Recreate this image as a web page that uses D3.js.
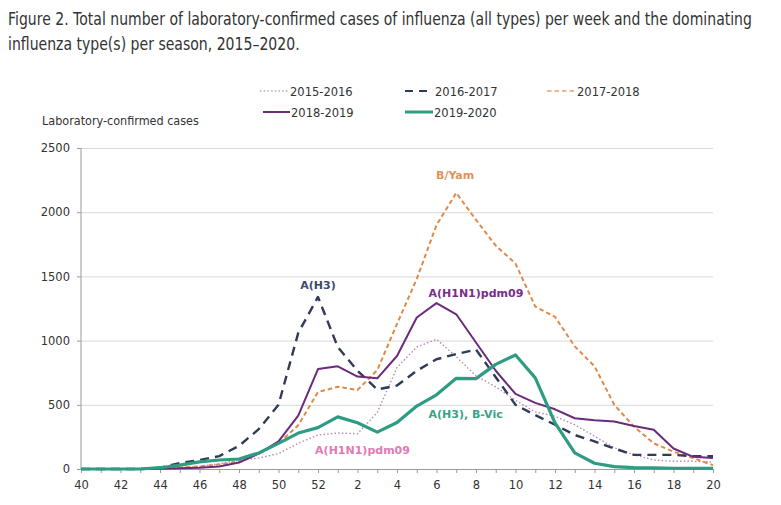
<!DOCTYPE html>
<html>
<head>
<meta charset="utf-8">
<script src="https://cdn.jsdelivr.net/npm/d3@7"></script>
<style>
    body { margin: 0; background: #fff; }
    text { font-family: "DejaVu Sans", Verdana, sans-serif; fill: #333; }
    .axis path, .axis line { stroke: #9a9a9a; }
    .axis text { font-size: 11.5px; fill: #333; }
    .grid line { stroke: #d9d9d9; }
    .grid path { display: none; }
    .tag { font-weight: bold; font-size: 11px; }
</style>
</head>
<body>
<svg width="781" height="505"></svg>
<script>
// weeks 40-52 then 1-20
var weeks = ["40", "41", "42", "43", "44", "45", "46", "47", "48", "49", "50", "51", "52",
    "1", "2", "3", "4", "5", "6", "7", "8", "9", "10", "11", "12", "13", "14", "15", "16", "17", "18", "19", "20"];
var weekLabels = ["40", "42", "44", "46", "48", "50", "52", "2", "4", "6", "8", "10", "12", "14", "16", "18", "20"];
var yTicks = [0, 500, 1000, 1500, 2000, 2500];

var s2015 = [0, 0, 0, 0, 5, 10, 20, 40, 70, 85, 120, 200, 265,
    280, 275, 440, 790, 950, 1010, 875, 725, 640, 535, 445, 410, 345, 255, 165, 110, 70, 60, 60, 55];
var s2016 = [0, 0, 0, 0, 10, 45, 70, 100, 180, 310, 500, 1060, 1340,
    950, 765, 620, 650, 765, 855, 895, 930, 715, 500, 420, 345, 265, 215, 160, 110, 110, 110, 100, 100];
var s2017 = [0, 0, 0, 0, 5, 10, 20, 35, 60, 120, 200, 340, 600,
    640, 615, 770, 1130, 1480, 1900, 2150, 1940, 1740, 1600, 1265, 1185, 955, 800, 500, 330, 200, 135, 85, 30];
var s2018 = [0, 0, 0, 0, 2, 5, 10, 20, 50, 120, 215, 415, 778,
    800, 720, 706, 880, 1180, 1292, 1205, 985, 765, 585, 515, 465, 395, 380, 370, 335, 305, 160, 95, 85];
var s2019 = [0, 0, 0, 0, 10, 30, 55, 70, 78, 125, 200, 280, 322,
    406, 360, 287, 362, 490, 578, 706, 704, 815, 888, 710, 360, 125, 45, 18, 10, 8, 6, 5, 5];

var seasons = ["2015-2016", "2016-2017", "2017-2018", "2018-2019", "2019-2020"];
var seasonValues = [s2015, s2016, s2017, s2018, s2019];
var seasonColors = ["#b48ab5", "#2f3b57", "#e08a48", "#6b2a7c", "#2e9c82"];
var seasonDash = ["1.5,2.2", "9,6", "4.5,3", null, null];
var seasonWidth = [1.4, 2.4, 2, 2, 3.2];

var tagTexts = ["A(H3)", "B/Yam", "A(H1N1)pdm09", "A(H3), B-Vic", "A(H1N1)pdm09"];
var tagColors = ["#3b4a70", "#e3915a", "#7a2c8c", "#35a387", "#e27ab6"];

var svg, margin, width, height, xScale, yScale, g;

// squeeze a text horizontally so it spans the given width
function squeezeText(x, y, size, w, str) {
    var holder = svg.append("g");
    var t = holder.append("text")
        .attr("font-size", size)
        .text(str);
    var natural = t.node().getComputedTextLength();
    holder.attr("transform", "translate(" + [x, y] + ") scale(" + (w / natural) + ",1)");
    return t;
}

function drawTitle() {
    squeezeText(8, 25, "17px", 744,
        "Figure 2. Total number of laboratory-confirmed cases of influenza (all types) per week and the dominating");
    squeezeText(8, 50, "17px", 292, "influenza type(s) per season, 2015\u20132020.");
    squeezeText(42, 125, "11.5px", 157, "Laboratory-confirmed cases");
}

function drawLegend() {
    // [x1, x2, textX, y]
    var spots = [[260, 288, 290, 91], [405, 430, 435, 91], [547, 577, 577, 91],
        [263, 290, 291, 112], [405, 433, 434, 112]];
    var legend = svg.append("g").attr("id", "legend");
    seasons.forEach(function (s, i) {
        var p = spots[i];
        legend.append("line")
            .attr("x1", p[0]).attr("x2", p[1])
            .attr("y1", p[3]).attr("y2", p[3])
            .attr("stroke", seasonColors[i])
            .attr("stroke-width", i == 4 ? 3 : 2)
            .attr("stroke-dasharray", i == 1 ? "8,6" : seasonDash[i])
            .attr("opacity", (i == 0 || i == 2) ? 0.6 : 1);
        legend.append("text")
            .attr("x", p[2]).attr("y", p[3] + 4.5)
            .attr("font-size", "11.5px")
            .text(s);
    });
}

function initLayout() {
    svg = d3.select("svg");
    margin = {top: 148, right: 68, bottom: 36, left: 81};
    width = +svg.attr("width") - margin.left - margin.right;
    height = +svg.attr("height") - margin.top - margin.bottom;

    xScale = d3.scalePoint().domain(weeks).range([0, width]);
    yScale = d3.scaleLinear().domain([0, 2500]).range([height, 0]);

    g = svg.append("g")
        .attr("transform", "translate(" + margin.left + "," + margin.top + ")");

    drawTitle();
    drawLegend();
}

function plotData() {
    // gridlines
    g.append("g")
        .attr("class", "grid")
        .call(d3.axisRight(yScale).tickValues(yTicks.slice(1)).tickSize(width).tickFormat(""));

    // axes
    g.append("g")
        .attr("class", "axis")
        .call(d3.axisLeft(yScale).tickValues(yTicks).tickFormat(d3.format("d"))
            .tickSize(4).tickSizeOuter(0).tickPadding(7))
        .select(".domain").attr("d", "M0," + height + "V0");

    var xAxisEl = g.append("g")
        .attr("class", "axis")
        .attr("transform", "translate(0," + height + ")")
        .call(d3.axisBottom(xScale).tickSize(4).tickSizeOuter(0).tickPadding(8)
            .tickFormat(function (d) { return weekLabels.indexOf(d) >= 0 ? d : ""; }));
    xAxisEl.selectAll("text").attr("font-size", "11.5px");

    var line = d3.line()
        .x(function (d, i) { return xScale(weeks[i]); })
        .y(function (d) { return yScale(d); });

    // draw order: dotted, orange, navy, purple, teal
    var order = [0, 2, 1, 3, 4];
    order.forEach(function (i) {
        g.append("path")
            .datum(seasonValues[i])
            .attr("fill", "none")
            .attr("stroke", seasonColors[i])
            .attr("stroke-width", seasonWidth[i])
            .attr("stroke-dasharray", seasonDash[i])
            .attr("stroke-linejoin", "round")
            .attr("d", line);
    });

    // dominating type labels, anchored to the peak of each season
    var tagAt = [
        [seasons[1], "52", 1340, -8, "middle"],
        [seasons[2], "7", 2150, -14, "end"],
        [seasons[3], "6", 1292, -6, "start"],
        [seasons[4], "6", 578, 23, "start"],
        [seasons[0], "2", 275, 20, "middle"]
    ];
    var dx = [0, 18, -8, -8, 5];
    tagAt.forEach(function (t, i) {
        g.append("text")
            .attr("class", "tag")
            .attr("x", xScale(t[1]) + dx[i])
            .attr("y", yScale(t[2]) + t[3])
            .attr("text-anchor", t[4])
            .style("fill", tagColors[i])
            .text(tagTexts[i]);
    });
}

initLayout();
plotData();
</script>
</body>
</html>
